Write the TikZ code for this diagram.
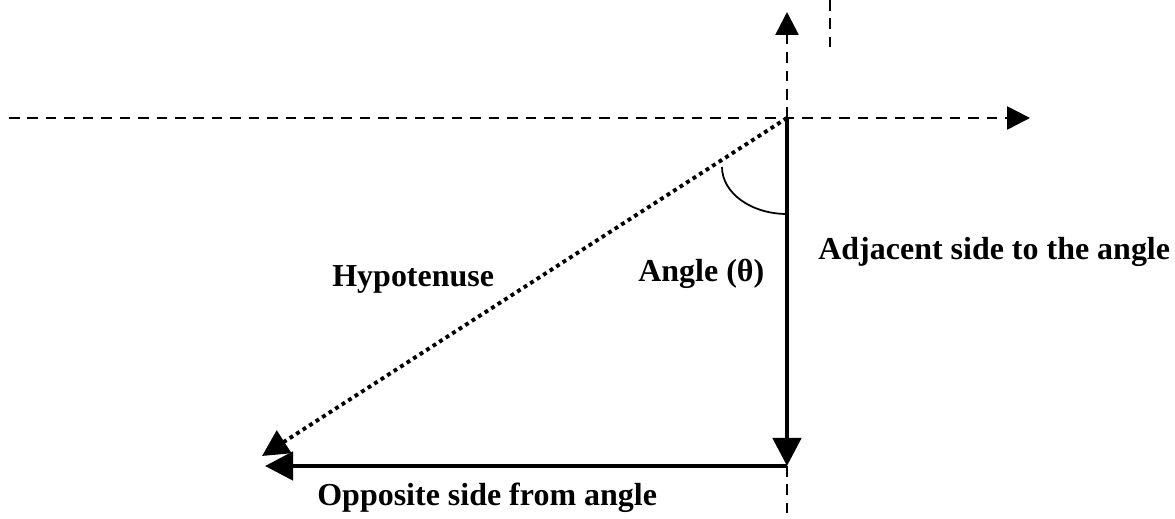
\documentclass[tikz,border=0pt]{standalone}
\usepackage{fontspec}
\setmainfont{Liberation Serif}
\usetikzlibrary{arrows.meta,positioning}

\begin{document}
\begin{tikzpicture}[
    x=0.02cm, y=-0.02cm,
    font=\fontsize{18.2}{22}\selectfont\bfseries,
    % --- line styles ---
    axis/.style      = {line width=1.5pt, dash pattern=on 6pt off 4.5pt},
    axisarrow/.style = {axis, -{Triangle[length=13pt,width=13pt]}},
    sidearrow/.style = {line width=2.7pt, -{Triangle[length=16pt,width=16pt]}},
    hyparrow/.style  = {line width=2.2pt, dash pattern=on 2.2pt off 2.2pt,
                        -{Triangle[length=15pt,width=15pt]}},
    lbl/.style       = {inner sep=0pt, anchor=base west},
]
\useasboundingbox (0,0) rectangle (1175,519);

%============ CORNER POINTS ============
\coordinate (top)    at (787,118);
\coordinate (corner) at (787,466);
\coordinate (tipopp) at (265,466);
\coordinate (tiphyp) at (262,456);

%============ AXES (dashed) ============
\coordinate (xstart) at (9,118);
\coordinate (xend)   at (1030,118);
\coordinate (yend)   at (787,12);
\coordinate (ybot)   at (787,519);
\coordinate (marktop) at (830,0);
\coordinate (markbot) at (830,47);

\draw[axisarrow] (xstart) -- (xend);
\draw[axisarrow] (top) -- (yend);
\draw[axis] (corner) -- (ybot);
\draw[axis] (marktop) -- (markbot);

%============ TRIANGLE SIDES ============
\draw[sidearrow] (top) -- (corner);
\draw[sidearrow] (corner) -- (tipopp);
\draw[hyparrow] (top) -- (tiphyp);

% angle mark
\draw[line width=1pt] (722,167) arc[start angle=180, end angle=270,
                                     x radius=65, y radius=-47];

%============ LABELS ============
\node (hyplbl) [lbl] at (332,287) {Hypotenuse};
\node (anglbl) [lbl] at (638,282) {Angle (θ)};
\node (adjlbl) [lbl] at (818,260) {Adjacent side to the angle};
\node (opplbl) [lbl] at (317,505) {Opposite side from angle};

\end{tikzpicture}
\end{document}
